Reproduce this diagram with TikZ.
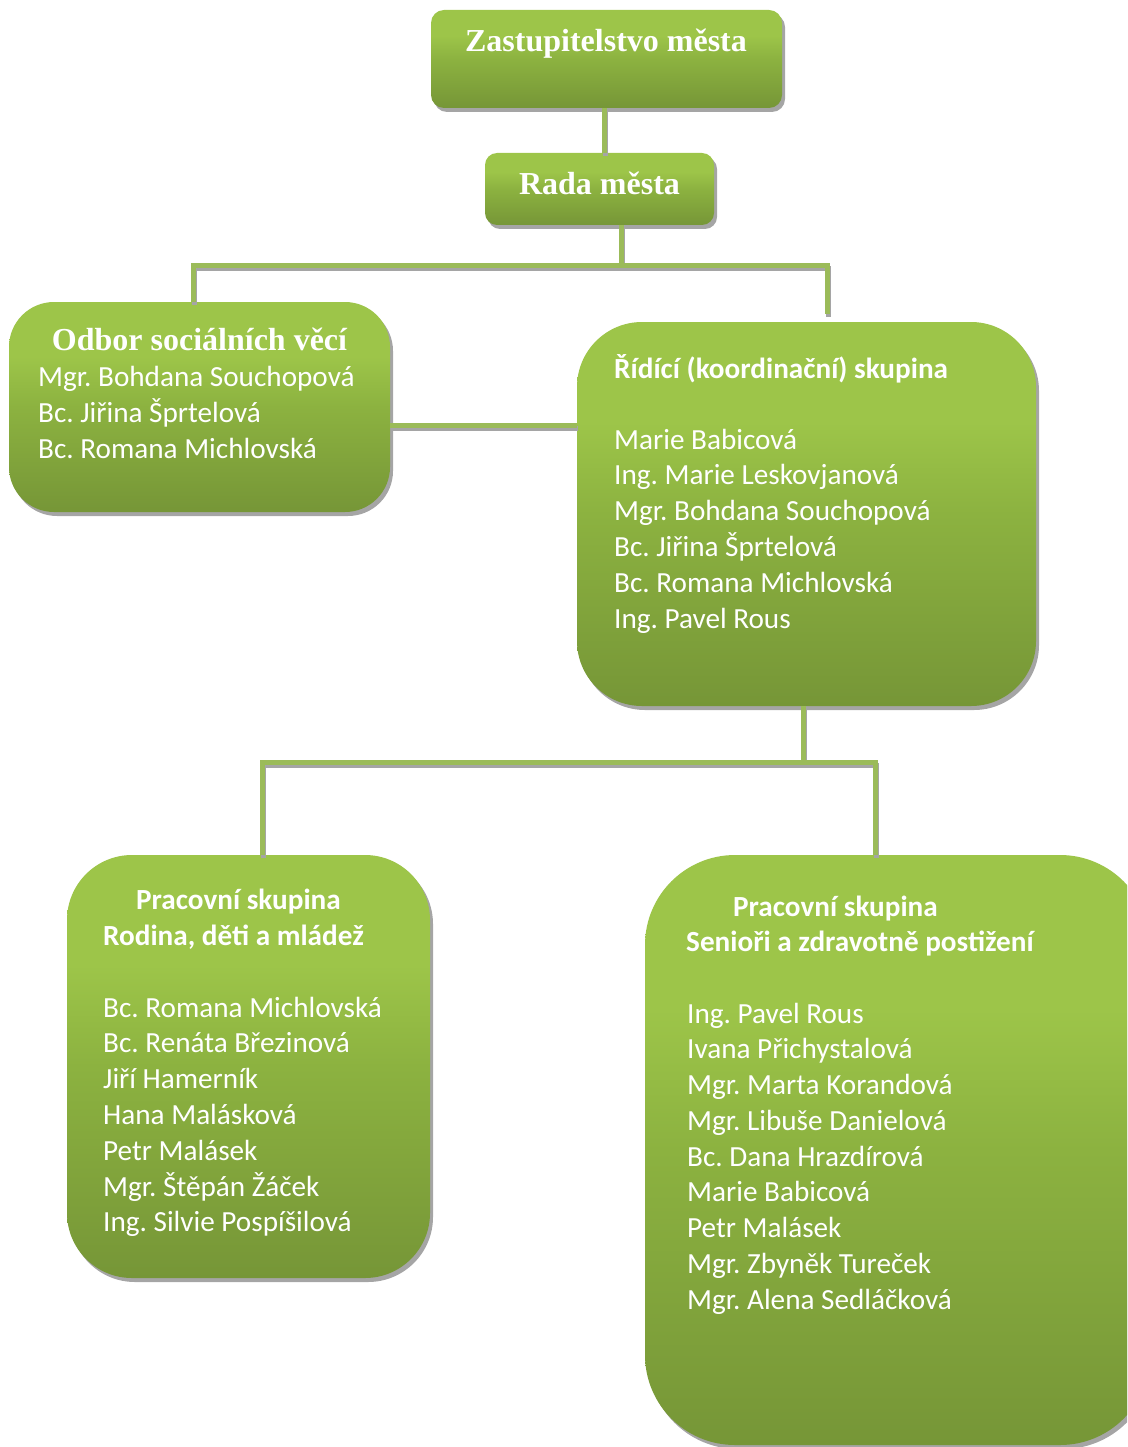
\documentclass[tikz,border=0pt]{standalone}
\usepackage{fontspec}
\setmainfont{Carlito}
\newfontfamily\timesf{Liberation Serif}
\usetikzlibrary{shadows}
\frenchspacing
\definecolor{gtop}{RGB}{157,197,73}
\definecolor{gmid}{RGB}{140,178,64}
\definecolor{gbot}{RGB}{118,150,55}
\definecolor{lineg}{RGB}{155,187,89}
\definecolor{shg}{RGB}{165,165,165}
\pgfdeclareverticalshading{boxshade}{100bp}{color(0bp)=(gbot); color(25bp)=(gbot); color(50bp)=(gmid); color(62bp)=(gtop); color(75bp)=(gtop); color(100bp)=(gtop)}
\begin{document}
\begin{tikzpicture}[x=1pt,y=-1pt,
  box/.style={shading=boxshade, draw=none, inner sep=0pt, rounded corners=#1,
    drop shadow={shadow xshift=3pt, shadow yshift=-4pt, fill=shg, opacity=1}},
  conn/.style={draw=lineg, line width=5pt, line join=miter,
    preaction={draw=shg, line width=5pt, transform canvas={xshift=1pt,yshift=-3pt}}},
  tt/.style={text=white, font=\timesf\bfseries\fontsize{32}{38}\selectfont, inner sep=0pt, anchor=base},
  bt/.style={text=white, font=\fontsize{29.2}{36}\selectfont, inner sep=0pt, anchor=base west},
  bb/.style={bt, font=\bfseries\fontsize{29.2}{36}\selectfont}]
\useasboundingbox (0,0) rectangle (1127,1447);
\clip (0,0) rectangle (1127,1447);

% boxes
\node[box=13pt, minimum width=351pt, minimum height=98pt] (zast) at (606.5,59) {};
\node[box=12pt, minimum width=229pt, minimum height=72pt] (rada) at (599.5,189) {};
\node[box=45pt, minimum width=381pt, minimum height=210pt] (odbor) at (199.5,407) {};
\node[box=65pt, minimum width=459pt, minimum height=384pt] (ridici) at (806.5,514) {};
\node[box=65pt, minimum width=363pt, minimum height=423pt] (rodina) at (248.5,1066.5) {};
\node[box=90pt, minimum width=505pt, minimum height=590pt] (senior) at (897.5,1150) {};

% connector coordinates
\coordinate (c1) at (604,0);
\coordinate (j1) at (621,265);
\coordinate (bl) at (193,265);
\coordinate (br) at (827,265);
\coordinate (brend) at (827,314);
\coordinate (m) at (0,425);
\coordinate (j2) at (803,762);
\coordinate (bl2) at (262,762);
\coordinate (br2) at (875,762);

% connectors
\draw[conn] (zast.south -| c1) -- (rada.north -| c1);
\draw[conn] (rada.south -| j1) -- (j1);
\draw[conn] (odbor.north -| bl) -- (bl) -- (br) -- (brend);
\draw[conn] (odbor.east |- m) -- (ridici.west |- m);
\draw[conn] (ridici.south -| j2) -- (j2);
\draw[conn] (rodina.north -| bl2) -- (bl2) -- (br2) -- (senior.north -| br2);

% texts
\node[tt] (tzast) at (606,52) {Zastupitelstvo města};
\node[tt] (trada) at (599.5,195) {Rada města};
\node[tt] (todbor) at (199.5,350) {Odbor sociálních věcí};
\foreach \t [count=\i] in {Mgr. Bohdana Souchopová, Bc. Jiřina Šprtelová, Bc. Romana Michlovská}
  \node[bt] (ol\i) at (38,{386+36*(\i-1)}) {\t};

\node[bb] (tridici) at (614,378) {Řídící (koordinační) skupina};
\foreach \t [count=\i] in {Marie Babicová, Ing. Marie Leskovjanová, Mgr. Bohdana Souchopová, Bc. Jiřina Šprtelová, Bc. Romana Michlovská, Ing. Pavel Rous}
  \node[bt] (rl\i) at (614,{449+35.8*(\i-1)}) {\t};

\node[bb] (trod1) at (136,909) {Pracovní skupina};
\node[bb] (trod2) at (103,945) {Rodina, děti a mládež};
\foreach \t [count=\i] in {Bc. Romana Michlovská, Bc. Renáta Březinová, Jiří Hamerník, Hana Malásková, Petr Malásek, Mgr. Štěpán Žáček, Ing. Silvie Pospíšilová}
  \node[bt] (dl\i) at (103,{1017+35.8*(\i-1)}) {\t};

\node[bb] (tsen1) at (733,916) {Pracovní skupina};
\node[bb] (tsen2) at (686,951) {Senioři a zdravotně postižení};
\foreach \t [count=\i] in {Ing. Pavel Rous, Ivana Přichystalová, Mgr. Marta Korandová, Mgr. Libuše Danielová, Bc. Dana Hrazdírová, Marie Babicová, Petr Malásek, Mgr. Zbyněk Tureček, Mgr. Alena Sedláčková}
  \node[bt] (sl\i) at (687,{1023+35.75*(\i-1)}) {\t};
\end{tikzpicture}
\end{document}
